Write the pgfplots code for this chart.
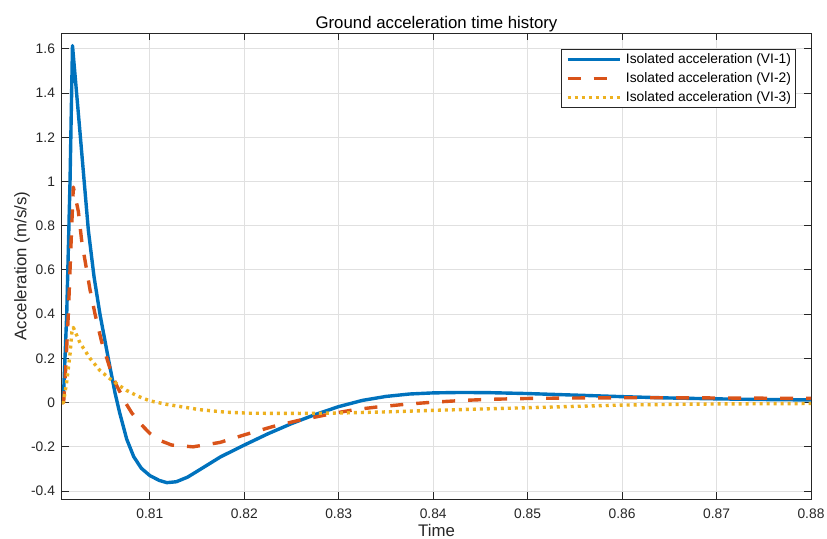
\documentclass[border=0pt]{standalone}
\usepackage{pgfplots}
\pgfplotsset{compat=1.18}
\usepackage{fontspec}
\setmainfont{Liberation Sans}
\definecolor{mblue}{RGB}{0,114,189}
\definecolor{morange}{RGB}{217,83,25}
\definecolor{myellow}{RGB}{237,177,32}
\definecolor{maxis}{RGB}{38,38,38}
\begin{document}
\begin{tikzpicture}
\useasboundingbox (-31pt,-19.5pt) rectangle (382.5pt,249.5pt);
\begin{axis}[
  at={(0pt,0pt)}, anchor=south west,
  scale only axis, width=374.5pt, height=233pt,
  xmin=0.8007, xmax=0.88, ymin=-0.436, ymax=1.672,
  xtick={0.81,0.82,0.83,0.84,0.85,0.86,0.87,0.88},
  ytick={-0.4,-0.2,0,0.2,0.4,0.6,0.8,1,1.2,1.4,1.6},
  xticklabel style={/pgf/number format/fixed, /pgf/number format/precision=2},
  /pgf/number format/assume math mode=true,
  tick align=inside, xtick pos=both, ytick pos=both,
  major tick length=3.5pt,
  tick style={maxis, line width=0.5pt},
  axis line style={maxis, line width=0.5pt},
  grid=major, grid style={black!12, line width=0.5pt},
  ticklabel style={font=\fontsize{6.9}{8}\selectfont, text=maxis},
  every x tick label/.append style={anchor=base, yshift=-9.65pt},
  every axis x label/.style={at={(axis description cs:0.5,-0.0675)}, anchor=center},
  every axis y label/.style={at={(axis description cs:-0.0534,0.5)}, rotate=90, anchor=center},
  every axis title/.style={at={(axis description cs:0.5,1.0103)}, anchor=base},
  label style={font=\fontsize{8.4}{10}\selectfont, text=maxis},
  title style={font=\fontsize{8.4}{10}\selectfont, text=black},
  xlabel={Time}, ylabel={Acceleration (m/s/s)},
  title={Ground acceleration time history},
  legend cell align=left,
  legend image code/.code={\draw[#1] (0pt,0pt) -- (26pt,0pt);},
  legend style={at={(axis description cs:1,1)}, anchor=north east,
    xshift=-7.5pt, yshift=-8pt, draw=maxis, line width=0.5pt,
    font=\fontsize{6.9}{8}\selectfont, inner xsep=2.3pt, inner ysep=1.75pt,
    row sep=3pt, column sep=2.3pt,
    nodes={inner sep=0pt, text height=5pt, text depth=1.5pt}},
]
\addplot[mblue, line width=1.7pt, line join=round] coordinates {
(0.8007,0) (0.80085,0.02) (0.8012,0.4) (0.80155,1.0) (0.80181,1.615)
(0.80261,1.22) (0.80349,0.78) (0.80409,0.57) (0.80472,0.40) (0.8056,0.20)
(0.80631,0.045) (0.8068,-0.045) (0.80755,-0.165) (0.8083,-0.245) (0.8091,-0.297)
(0.8100,-0.33) (0.8110,-0.352) (0.8118,-0.362) (0.8128,-0.358) (0.8140,-0.337)
(0.8153,-0.303) (0.8175,-0.245) (0.8200,-0.192) (0.8225,-0.141) (0.8250,-0.095)
(0.8275,-0.054) (0.8300,-0.018) (0.8325,0.010) (0.8350,0.028) (0.8375,0.039)
(0.8400,0.044) (0.8430,0.046) (0.8460,0.045) (0.8500,0.041) (0.8550,0.034)
(0.8600,0.027) (0.8650,0.021) (0.8700,0.017) (0.8750,0.014) (0.8800,0.012)
};
\addlegendentry{Isolated acceleration (VI-1)}
\addplot[morange, line width=1.7pt, dash pattern=on 6.5pt off 6.5pt, line join=round] coordinates {
(0.8007,0) (0.80087,0) (0.80102,0.095) (0.80137,0.4) (0.80173,0.8)
(0.8019,0.975) (0.80243,0.865) (0.80279,0.73) (0.80367,0.51) (0.8042,0.40)
(0.8049,0.275) (0.80578,0.155) (0.80640,0.085) (0.80742,0.0) (0.80808,-0.046)
(0.8090,-0.095) (0.81002,-0.140) (0.8110,-0.170) (0.81232,-0.192) (0.81457,-0.2)
(0.81743,-0.18) (0.8200,-0.146) (0.82304,-0.108) (0.8259,-0.079) (0.8294,-0.049)
(0.83152,-0.033) (0.8340,-0.020) (0.8372,-0.007) (0.8400,0.002) (0.8432,0.010)
(0.8460,0.015) (0.8502,0.019) (0.8550,0.021) (0.8597,0.022) (0.8650,0.022)
(0.8700,0.021) (0.8750,0.020) (0.8800,0.019)
};
\addlegendentry{Isolated acceleration (VI-2)}
\addplot[myellow, line width=1.7pt, dash pattern=on 1.5pt off 2pt, line join=round] coordinates {
(0.8007,0) (0.80085,0) (0.8012,0.095) (0.80155,0.22) (0.80175,0.32) (0.80190,0.34)
(0.80261,0.27) (0.80367,0.2) (0.80472,0.145) (0.80578,0.108) (0.80684,0.075)
(0.80755,0.055) (0.8088,0.028) (0.8100,0.008) (0.8118,-0.008) (0.8153,-0.032)
(0.8180,-0.043) (0.8206,-0.048) (0.8259,-0.049) (0.8300,-0.047) (0.8350,-0.042)
(0.8400,-0.035) (0.8450,-0.029) (0.8500,-0.023) (0.8550,-0.017) (0.8600,-0.011)
(0.8650,-0.008) (0.8700,-0.006) (0.8750,-0.005) (0.8800,-0.004)
};
\addlegendentry{Isolated acceleration (VI-3)}
\end{axis}
\end{tikzpicture}
\end{document}
